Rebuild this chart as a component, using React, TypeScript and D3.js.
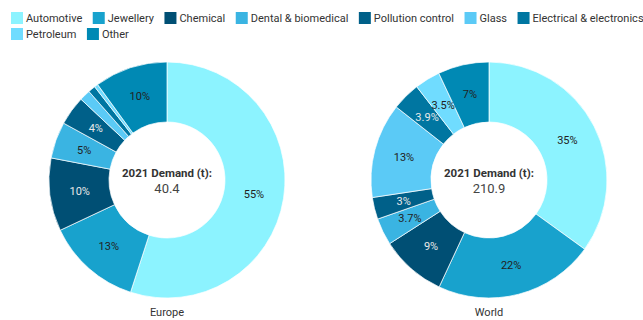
import React, { useEffect, useRef } from "react";
import * as d3 from "d3";

const categories = [
  "Automotive",
  "Jewellery",
  "Chemical",
  "Dental & biomedical",
  "Pollution control",
  "Glass",
  "Electrical & electronics",
  "Petroleum",
  "Other",
];
const colors = [
  "#8cf3ff",
  "#18a2cd",
  "#004f74",
  "#3ab4e2",
  "#006089",
  "#5bcaf6",
  "#0076a1",
  "#70dcff",
  "#0089b4",
];
const darkSlices = [false, false, true, false, true, false, true, false, false];

const europeValues = [55, 13, 10, 5, 4, 1.5, 1.0, 0.5, 10];
const europeLabels = ["55%", "13%", "10%", "5%", "4%", "", "", "", "10%"];
const worldValues = [35, 22, 9, 3.7, 3, 13, 3.9, 3.5, 7];
const worldLabels = ["35%", "22%", "9%", "3.7%", "3%", "13%", "3.9%", "3.5%", "7%"];

const regions = ["Europe", "World"];
const demandTitle = "2021 Demand (t):";
const demandValues = ["40.4", "210.9"];

const W = 643;
const H = 320;

export default function App() {
  const ref = useRef<SVGSVGElement | null>(null);

  useEffect(() => {
    const svg = d3.select(ref.current);
    svg.selectAll("*").remove();
    const font = "Roboto, 'Noto Sans', sans-serif";

    // Legend (flow layout)
    const legend = svg.append("g").attr("font-family", font).attr("font-size", 11);
    const sq = 12;
    const pad = 3;
    const gap = 10.5;
    let x = 11;
    let y = 12;
    categories.forEach((c, i) => {
      const g = legend.append("g");
      const t = g
        .append("text")
        .attr("x", x + sq + pad)
        .attr("y", y + 10)
        .attr("fill", "#333")
        .text(c);
      const tw = (t.node() as SVGTextElement).getComputedTextLength();
      if (x + sq + pad + tw > W + 4 && x > 11) {
        x = 11;
        y += 16;
        t.attr("x", x + sq + pad).attr("y", y + 10);
      }
      g.append("rect").attr("x", x).attr("y", y).attr("width", sq).attr("height", sq).attr("fill", colors[i]);
      x += sq + pad + tw + gap;
    });

    const outerR = 118;
    const innerR = 58;
    const centers = [167, 489];
    const cy = 180;
    const datasets = [europeValues, worldValues];
    const labelsets = [europeLabels, worldLabels];

    const pie = d3.pie<number>().sort(null).value((d) => d);
    const arc = d3.arc<d3.PieArcDatum<number>>().innerRadius(innerR).outerRadius(outerR);

    datasets.forEach((vals, k) => {
      const g = svg.append("g").attr("transform", `translate(${centers[k]},${cy})`);
      const arcs = pie(vals);
      g.selectAll("path.slice")
        .data(arcs)
        .enter()
        .append("path")
        .attr("class", "slice")
        .attr("d", arc)
        .attr("fill", (_d, i) => colors[i])
        .attr("stroke", "#fff")
        .attr("stroke-width", 0.7);
      g.selectAll("text.pct")
        .data(arcs)
        .enter()
        .append("text")
        .attr("class", "pct")
        .attr("transform", (d) => `translate(${arc.centroid(d)})`)
        .attr("text-anchor", "middle")
        .attr("dy", "0.35em")
        .attr("font-family", font)
        .attr("font-size", 11)
        .attr("fill", (_d, i) => (darkSlices[i] ? "#e8e8e8" : "#222"))
        .text((_d, i) => labelsets[k][i]);
      g.append("text")
        .attr("text-anchor", "middle")
        .attr("y", -3)
        .attr("font-family", font)
        .attr("font-size", 11.5)
        .attr("font-weight", 700)
        .attr("fill", "#333")
        .text(demandTitle);
      g.append("text")
        .attr("text-anchor", "middle")
        .attr("y", 13)
        .attr("font-family", font)
        .attr("font-size", 13)
        .attr("fill", "#444")
        .text(demandValues[k]);
      g.append("text")
        .attr("text-anchor", "middle")
        .attr("y", 136)
        .attr("font-family", font)
        .attr("font-size", 11)
        .attr("fill", "#333")
        .text(regions[k]);
    });
  }, []);

  return (
    <div style={{ position: "absolute", left: 0, top: 0 }}>
      <svg ref={ref} width={W} height={H} style={{ display: "block", background: "#fff" }} />
    </div>
  );
}
